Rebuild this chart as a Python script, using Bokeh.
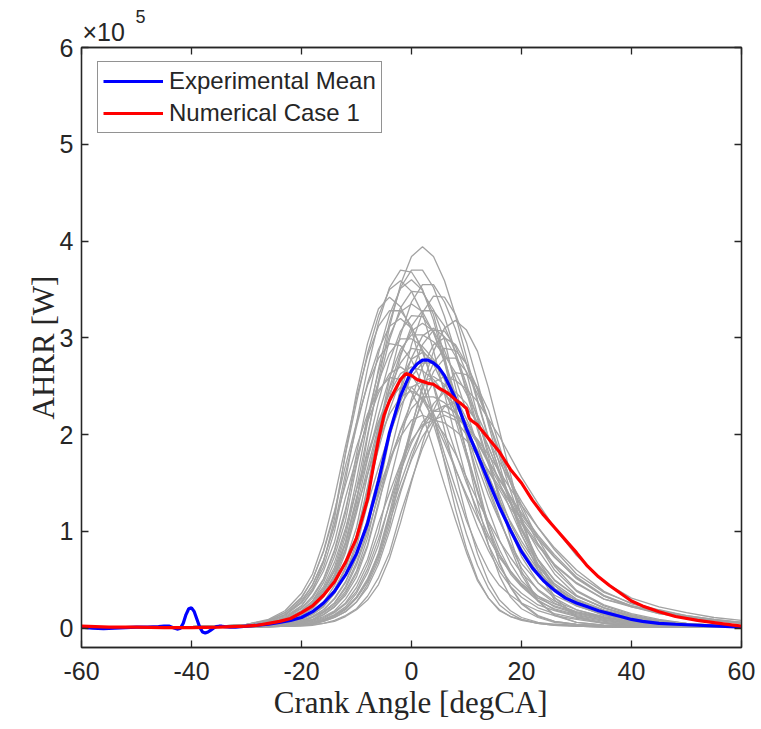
from bokeh.plotting import figure
from bokeh.models import LinearAxis, FixedTicker, Range1d, Legend, LegendItem, Title
from bokeh.embed import file_html
from bokeh.resources import INLINE

# ---------------- data (AHRR in units of 1e5 W) ----------------
X_TICKS = [-60, -40, -20, 0, 20, 40, 60]
X_TICK_LABELS = ["-60", "-40", "-20", "0", "20", "40", "60"]
Y_TICKS = [0, 1, 2, 3, 4, 5, 6]
Y_TICK_LABELS = ["0", "1", "2", "3", "4", "5", "6"]
EXPONENT_BASE = "\u00d710"
EXPONENT_POWER = "5"

# crank angles at which the individual measured cycles were read
CYCLE_X = [-60, -45, -35, -30, -26, -23, -20, -18, -16, -14, -12, -10, -8, -6,
           -4, -2, 0, 2, 4, 6, 8, 10, 12, 14, 16, 18, 20, 23, 26, 30, 35, 40,
           45, 50, 55, 60]

cycle_01 = [.01, .01, .02, .03, .04, .07, .14, .22, .33, .55, .87, 1.30, 1.97, 2.56, 3.11, 3.55, 3.84, 3.94, 3.84, 3.59, 3.23, 2.80, 2.36, 1.97, 1.62, 1.30, 1.02, .71, .49, .33, .21, .13, .07, .04, .03, .02]
cycle_02 = [.01, .01, .02, .03, .07, .13, .26, .41, .63, 1.00, 1.53, 2.12, 2.68, 3.16, 3.52, 3.70, 3.68, 3.50, 3.18, 2.75, 2.27, 1.82, 1.40, 1.04, .76, .56, .43, .28, .20, .14, .08, .05, .03, .02, .02, .02]
cycle_03 = [.01, .01, .02, .03, .05, .08, .17, .26, .41, .63, 1.00, 1.53, 2.12, 2.68, 3.16, 3.52, 3.70, 3.70, 3.52, 3.22, 2.85, 2.44, 2.05, 1.69, 1.38, 1.08, .86, .60, .41, .29, .18, .10, .06, .04, .03, .02]
cycle_04 = [.01, .01, .02, .04, .08, .16, .31, .50, .79, 1.18, 1.80, 2.33, 2.84, 3.23, 3.50, 3.59, 3.48, 3.25, 2.87, 2.42, 1.97, 1.54, 1.17, .86, .63, .47, .36, .24, .18, .12, .07, .04, .03, .02, .02, .02]
cycle_05 = [.01, .01, .02, .02, .03, .05, .10, .16, .25, .39, .61, .96, 1.46, 2.03, 2.57, 3.03, 3.37, 3.55, 3.55, 3.37, 3.09, 2.73, 2.34, 1.96, 1.62, 1.32, 1.04, .71, .50, .33, .21, .12, .07, .04, .03, .02]
cycle_06 = [.01, .01, .01, .02, .03, .04, .06, .09, .16, .24, .38, .59, .93, 1.41, 1.97, 2.48, 2.93, 3.26, 3.43, 3.42, 3.24, 2.95, 2.55, 2.10, 1.69, 1.29, .97, .60, .40, .23, .14, .09, .05, .03, .02, .02]
cycle_07 = [.01, .01, .02, .03, .05, .10, .23, .39, .68, 1.13, 1.81, 2.43, 2.94, 3.30, 3.42, 3.32, 3.08, 2.67, 2.19, 1.71, 1.23, .82, .51, .31, .19, .12, .09, .05, .03, .02, .01, .01, .01, .01, .01, .01]
cycle_08 = [.01, .01, .01, .01, .02, .02, .03, .05, .07, .11, .17, .27, .45, .70, 1.05, 1.59, 2.07, 2.51, 2.86, 3.10, 3.18, 3.08, 2.86, 2.48, 2.04, 1.59, 1.14, .60, .29, .11, .05, .03, .02, .01, .01, .01]
cycle_09 = [.01, .01, .02, .03, .05, .09, .18, .28, .47, .74, 1.11, 1.68, 2.18, 2.65, 3.02, 3.27, 3.35, 3.27, 3.05, 2.75, 2.38, 2.01, 1.68, 1.37, 1.11, .87, .67, .47, .34, .23, .14, .08, .05, .03, .02, .02]
cycle_10 = [.01, .01, .01, .02, .03, .05, .09, .15, .23, .36, .56, .89, 1.35, 1.88, 2.38, 2.81, 3.12, 3.28, 3.28, 3.12, 2.85, 2.52, 2.16, 1.82, 1.50, 1.22, .96, .66, .46, .30, .19, .12, .07, .04, .03, .02]
cycle_11 = [.01, .01, .02, .04, .07, .14, .27, .45, .70, 1.06, 1.60, 2.08, 2.53, 2.88, 3.12, 3.20, 3.10, 2.88, 2.50, 2.05, 1.60, 1.15, .77, .48, .29, .18, .11, .06, .04, .03, .02, .01, .01, .01, .01, .01]
cycle_12 = [.01, .01, .01, .02, .02, .04, .07, .11, .17, .26, .43, .68, 1.02, 1.55, 2.02, 2.45, 2.79, 3.02, 3.10, 3.01, 2.81, 2.48, 2.09, 1.71, 1.33, 1.01, .74, .47, .31, .19, .11, .07, .04, .02, .02, .02]
cycle_13 = [.01, .01, .02, .02, .04, .07, .14, .21, .34, .52, .82, 1.25, 1.74, 2.20, 2.59, 2.88, 3.03, 3.03, 2.96, 2.82, 2.64, 2.42, 2.20, 1.95, 1.72, 1.51, 1.31, 1.04, .81, .56, .37, .26, .19, .13, .09, .06]
cycle_14 = [.01, .01, .01, .02, .02, .03, .05, .07, .11, .17, .26, .42, .66, .99, 1.50, 1.95, 2.37, 2.70, 2.93, 3.00, 2.93, 2.73, 2.46, 2.13, 1.80, 1.50, 1.23, .87, .60, .38, .23, .14, .08, .05, .03, .02]
cycle_15 = [.01, .01, .02, .04, .08, .16, .32, .50, .80, 1.21, 1.68, 2.12, 2.51, 2.79, 2.94, 2.92, 2.77, 2.52, 2.18, 1.80, 1.45, 1.11, .83, .60, .44, .34, .26, .18, .13, .09, .05, .03, .02, .02, .02, .02]
cycle_16 = [.01, .01, .01, .02, .03, .05, .10, .16, .24, .40, .63, .94, 1.43, 1.85, 2.25, 2.57, 2.78, 2.85, 2.76, 2.57, 2.22, 1.82, 1.43, 1.03, .68, .43, .26, .13, .07, .04, .02, .01, .01, .01, .01, .01]
cycle_17 = [.01, .01, .01, .01, .02, .02, .04, .05, .08, .13, .20, .31, .48, .76, 1.15, 1.60, 2.02, 2.38, 2.65, 2.79, 2.79, 2.65, 2.42, 2.14, 1.83, 1.54, 1.27, .92, .64, .39, .24, .15, .09, .05, .03, .02]
cycle_18 = [.01, .01, .01, .02, .04, .07, .15, .23, .38, .59, .89, 1.35, 1.76, 2.13, 2.43, 2.63, 2.70, 2.66, 2.57, 2.43, 2.24, 2.05, 1.84, 1.62, 1.43, 1.24, 1.08, .85, .65, .46, .30, .22, .15, .11, .08, .05]
cycle_19 = [.01, .01, .01, .02, .02, .03, .06, .09, .14, .22, .36, .57, .86, 1.30, 1.69, 2.05, 2.34, 2.54, 2.60, 2.52, 2.35, 2.08, 1.76, 1.43, 1.12, .85, .62, .39, .26, .16, .10, .06, .03, .02, .02, .01]
cycle_20 = [.01, .01, .01, .01, .02, .02, .03, .04, .07, .11, .17, .27, .42, .66, 1.00, 1.40, 1.76, 2.08, 2.32, 2.44, 2.44, 2.32, 2.12, 1.87, 1.60, 1.35, 1.11, .81, .56, .34, .21, .13, .08, .05, .03, .02]
cycle_21 = [.01, .01, .01, .02, .02, .04, .06, .11, .17, .26, .41, .65, .98, 1.37, 1.73, 2.04, 2.27, 2.39, 2.39, 2.33, 2.22, 2.08, 1.91, 1.73, 1.54, 1.36, 1.19, .96, .76, .53, .34, .23, .17, .12, .08, .06]
cycle_22 = [.01, .01, .01, .01, .02, .02, .03, .05, .08, .13, .20, .32, .51, .76, 1.15, 1.50, 1.82, 2.07, 2.24, 2.30, 2.23, 2.07, 1.79, 1.47, 1.15, .83, .55, .28, .13, .06, .03, .02, .01, .01, .01, .01]
cycle_23 = [.01, .01, .01, .02, .02, .04, .08, .12, .19, .31, .48, .73, 1.10, 1.43, 1.74, 1.98, 2.15, 2.20, 2.15, 2.00, 1.80, 1.56, 1.32, 1.10, .90, .73, .57, .40, .28, .19, .12, .07, .04, .02, .02, .01]
cycle_24 = [.01, .01, .01, .01, .02, .03, .05, .08, .12, .18, .30, .47, .71, 1.08, 1.40, 1.70, 1.94, 2.10, 2.15, 2.12, 2.04, 1.94, 1.78, 1.63, 1.46, 1.29, 1.14, .92, .73, .52, .33, .22, .16, .11, .08, .05]
cycle_25 = [.01, .01, .01, .01, .02, .02, .04, .06, .10, .16, .25, .38, .61, .92, 1.28, 1.62, 1.91, 2.13, 2.24, 2.24, 2.18, 2.08, 1.95, 1.79, 1.62, 1.44, 1.27, 1.04, .83, .60, .38, .25, .18, .13, .09, .06]
cycle_26 = [.01, .01, .02, .03, .06, .12, .23, .38, .59, .89, 1.35, 1.76, 2.13, 2.43, 2.63, 2.70, 2.62, 2.43, 2.11, 1.73, 1.35, .97, .65, .41, .24, .15, .09, .05, .04, .02, .01, .01, .01, .01, .01, .01]
cycle_27 = [.01, .01, .02, .03, .07, .14, .29, .44, .70, 1.07, 1.48, 1.87, 2.21, 2.46, 2.59, 2.57, 2.44, 2.21, 1.85, 1.48, 1.12, .78, .49, .31, .18, .12, .08, .05, .03, .02, .01, .01, .01, .01, .01, .01]
cycle_28 = [.01, .01, .02, .02, .04, .07, .15, .23, .36, .55, .88, 1.33, 1.85, 2.34, 2.76, 3.07, 3.23, 3.22, 3.06, 2.78, 2.41, 1.98, 1.59, 1.22, .91, .67, .49, .33, .22, .15, .09, .05, .03, .02, .02, .02]
cycle_29 = [.01, .01, .01, .01, .02, .02, .04, .06, .09, .14, .22, .36, .57, .86, 1.30, 1.69, 2.05, 2.34, 2.54, 2.60, 2.56, 2.47, 2.34, 2.16, 1.98, 1.77, 1.56, 1.29, 1.04, .75, .48, .31, .22, .16, .11, .08]
cycle_30 = [.01, .01, .02, .04, .09, .18, .36, .56, .89, 1.35, 1.88, 2.38, 2.81, 3.12, 3.28, 3.28, 3.12, 2.85, 2.52, 2.16, 1.82, 1.50, 1.22, .96, .76, .59, .46, .33, .25, .17, .11, .06, .04, .02, .02, .02]
cycle_31 = [.01, .01, .01, .02, .04, .06, .13, .20, .32, .49, .78, 1.19, 1.65, 2.09, 2.47, 2.74, 2.89, 2.87, 2.73, 2.48, 2.15, 1.77, 1.42, 1.09, .81, .59, .44, .29, .19, .13, .08, .05, .03, .02, .02, .01]
cycle_32 = [.01, .01, .01, .02, .03, .05, .09, .14, .22, .36, .56, .84, 1.28, 1.66, 2.01, 2.30, 2.49, 2.55, 2.51, 2.42, 2.30, 2.12, 1.94, 1.73, 1.53, 1.35, 1.17, .94, .74, .51, .33, .23, .17, .12, .08, .06]
cycle_33 = [.01, .01, .01, .02, .02, .03, .06, .08, .14, .22, .34, .53, .84, 1.27, 1.77, 2.23, 2.64, 2.93, 3.08, 3.07, 2.91, 2.64, 2.20, 1.77, 1.33, .93, .59, .28, .14, .06, .03, .02, .01, .01, .01, .01]
cycle_34 = [.01, .01, .01, .02, .02, .04, .07, .12, .19, .30, .47, .74, 1.13, 1.57, 1.98, 2.34, 2.60, 2.74, 2.74, 2.60, 2.38, 2.10, 1.80, 1.51, 1.25, 1.02, .80, .55, .39, .25, .16, .10, .06, .03, .02, .02]
cycle_35 = [.01, .01, .01, .01, .01, .02, .03, .04, .05, .08, .13, .20, .33, .52, .78, 1.18, 1.53, 1.86, 2.12, 2.29, 2.35, 2.28, 2.13, 1.88, 1.59, 1.29, 1.01, .66, .41, .24, .13, .08, .05, .03, .02, .01]
cycle_36 = [.01, .01, .02, .03, .05, .08, .16, .25, .39, .60, .95, 1.44, 2.00, 2.52, 2.98, 3.31, 3.48, 3.47, 3.29, 2.98, 2.49, 2.00, 1.51, 1.05, .67, .42, .25, .12, .07, .04, .02, .01, .01, .01, .01, .01]
cycle_37 = [.01, .01, .02, .02, .05, .09, .18, .28, .43, .68, 1.03, 1.43, 1.80, 2.13, 2.36, 2.49, 2.49, 2.36, 2.16, 1.91, 1.64, 1.38, 1.14, .93, .73, .58, .45, .31, .23, .16, .10, .06, .04, .02, .02, .01]
cycle_38 = [.01, .01, .01, .01, .02, .02, .04, .05, .08, .13, .20, .32, .49, .78, 1.19, 1.65, 2.09, 2.47, 2.74, 2.89, 2.87, 2.73, 2.48, 2.15, 1.77, 1.42, 1.09, .70, .44, .25, .15, .09, .05, .03, .02, .02]
cycle_39 = [.01, .01, .01, .01, .02, .02, .03, .05, .08, .12, .19, .31, .48, .73, 1.10, 1.43, 1.74, 1.98, 2.15, 2.20, 2.15, 2.00, 1.80, 1.56, 1.32, 1.10, .90, .64, .44, .28, .17, .11, .06, .04, .02, .02]
cycle_40 = [.01, .01, .02, .03, .05, .11, .21, .33, .51, .81, 1.23, 1.71, 2.16, 2.55, 2.84, 2.99, 2.99, 2.91, 2.78, 2.60, 2.39, 2.16, 1.92, 1.70, 1.49, 1.29, 1.11, .87, .66, .47, .30, .23, .15, .11, .08, .05]
cycle_41 = [.01, .01, .01, .01, .01, .02, .02, .03, .05, .07, .12, .19, .29, .45, .72, 1.09, 1.51, 1.91, 2.25, 2.50, 2.64, 2.62, 2.49, 2.25, 1.88, 1.51, 1.14, .64, .32, .12, .05, .02, .01, .01, .01, .01]
cycle_42 = [.01, .01, .02, .02, .03, .06, .11, .17, .27, .44, .69, 1.04, 1.58, 2.05, 2.49, 2.84, 3.07, 3.15, 3.07, 2.87, 2.58, 2.24, 1.89, 1.58, 1.29, 1.04, .82, .57, .39, .27, .17, .10, .06, .03, .02, .02]
cycle_43 = [.01, .01, .01, .02, .04, .07, .13, .21, .34, .54, .81, 1.23, 1.59, 1.94, 2.21, 2.39, 2.45, 2.38, 2.22, 1.96, 1.65, 1.35, 1.05, .80, .59, .43, .32, .21, .15, .10, .06, .04, .02, .01, .01, .01]
cycle_44 = [.01, .01, .02, .03, .05, .10, .20, .31, .50, .79, 1.19, 1.80, 2.34, 2.84, 3.24, 3.51, 3.60, 3.49, 3.24, 2.81, 2.30, 1.80, 1.30, .86, .54, .32, .20, .11, .06, .04, .02, .01, .01, .01, .01, .01]

CYCLES = [cycle_01, cycle_02, cycle_03, cycle_04, cycle_05, cycle_06, cycle_07,
          cycle_08, cycle_09, cycle_10, cycle_11, cycle_12, cycle_13, cycle_14,
          cycle_15, cycle_16, cycle_17, cycle_18, cycle_19, cycle_20, cycle_21,
          cycle_22, cycle_23, cycle_24, cycle_25, cycle_26, cycle_27, cycle_28,
          cycle_29, cycle_30, cycle_31, cycle_32, cycle_33, cycle_34, cycle_35,
          cycle_36, cycle_37, cycle_38, cycle_39, cycle_40, cycle_41, cycle_42,
          cycle_43, cycle_44]
for i, c in enumerate(CYCLES):
    assert len(c) == len(CYCLE_X), (i + 1, len(c))

# Experimental mean
BLUE_X = [-60, -58, -56, -54, -52, -50, -48, -46, -45, -44, -43.3, -42.6, -42,
          -41.5, -41, -40.5, -40, -39.5, -39, -38.5, -38, -37.5, -37, -36.5, -36,
          -35.5, -35, -34.5, -34, -33, -32, -30, -28, -26, -24, -22, -20, -18,
          -16, -14, -12, -10, -8, -6, -4, -2, 0, 1, 2, 3, 4, 5, 6, 8, 10, 12, 14,
          16, 18, 20, 22, 24, 26, 28, 30, 32, 34, 36, 38, 40, 42, 45, 48, 52, 56,
          60]
BLUE_Y = [0.01, 0.0, -0.005, 0.0, 0.005, 0.01, 0.01, 0.015, 0.02, 0.02, 0.005,
          -0.01, 0.0, 0.05, 0.14, 0.20, 0.21, 0.17, 0.09, 0.01, -0.04, -0.05,
          -0.04, -0.02, 0.0, 0.015, 0.02, 0.02, 0.015, 0.01, 0.01, 0.02, 0.03,
          0.04, 0.06, 0.08, 0.11, 0.17, 0.26, 0.38, 0.55, 0.77, 1.08, 1.52, 2.02,
          2.40, 2.66, 2.73, 2.77, 2.77, 2.74, 2.69, 2.61, 2.37, 2.06, 1.79, 1.52,
          1.25, 1.01, 0.79, 0.62, 0.49, 0.39, 0.31, 0.26, 0.22, 0.18, 0.15, 0.12,
          0.09, 0.07, 0.05, 0.04, 0.03, 0.02, 0.01]

# Numerical case 1
RED_X = [-60, -55, -50, -45, -40, -35, -30, -28, -26, -24, -22, -20, -18, -16,
         -14, -12, -10, -8, -7, -6, -5, -4, -3, -2, -1, 0, 1, 2, 3, 4, 5, 6, 7,
         8, 9, 10, 10.5, 11, 12, 13, 14, 15, 16, 18, 20, 22, 24, 26, 28, 30, 32,
         34, 36, 38, 40, 42, 45, 48, 52, 56, 60]
RED_Y = [0.02, 0.01, 0.01, 0.005, 0.005, 0.01, 0.02, 0.03, 0.05, 0.07, 0.10,
         0.16, 0.23, 0.34, 0.48, 0.68, 0.93, 1.33, 1.65, 1.95, 2.20, 2.35, 2.46,
         2.57, 2.63, 2.61, 2.57, 2.55, 2.53, 2.52, 2.48, 2.45, 2.41, 2.36, 2.32,
         2.27, 2.17, 2.14, 2.10, 2.03, 1.96, 1.89, 1.82, 1.64, 1.50, 1.32, 1.17,
         1.04, 0.91, 0.78, 0.64, 0.53, 0.44, 0.36, 0.28, 0.23, 0.17, 0.12, 0.08,
         0.05, 0.02]

# ---------------- styling ----------------
DARK = "#262626"
SANS = "Liberation Sans"
SERIF = "Liberation Serif"

p = figure(width=761, height=729, output_backend="svg", toolbar_location=None,
           x_range=Range1d(-60, 60), y_range=Range1d(-0.2, 6),
           min_border_left=81, min_border_right=20, min_border_top=47,
           min_border_bottom=82)
p.background_fill_color = "white"
p.border_fill_color = "white"
p.xgrid.visible = False
p.ygrid.visible = False
p.outline_line_color = DARK
p.outline_line_width = 1.3
p.outline_line_alpha = 1.0

p.multi_line(xs=[CYCLE_X] * len(CYCLES), ys=CYCLES, line_color="#a3a3a3",
             line_width=1.3)
blue_r = p.line(BLUE_X, BLUE_Y, line_color="#0000ff", line_width=3.2)
red_r = p.line(RED_X, RED_Y, line_color="#ff0000", line_width=3.2)


def style_axis(ax, ticks, labels):
    ax.ticker = FixedTicker(ticks=ticks)
    ax.major_label_overrides = {t: l for t, l in zip(ticks, labels)}
    ax.axis_line_color = DARK
    ax.axis_line_width = 1.3
    ax.major_tick_line_color = DARK
    ax.major_tick_line_width = 1.3
    ax.major_tick_in = 7
    ax.major_tick_out = 0
    ax.minor_tick_line_color = None
    ax.major_label_text_font = SANS
    ax.major_label_text_color = DARK
    ax.major_label_text_font_size = "25px"
    ax.axis_label_text_font = SERIF
    ax.axis_label_text_font_style = "normal"
    ax.axis_label_text_font_size = "31px"
    ax.axis_label_text_color = DARK


xa = p.xaxis[0]
style_axis(xa, X_TICKS, X_TICK_LABELS)
xa.axis_label = "Crank Angle [degCA]"
xa.major_label_standoff = 14
xa.axis_label_standoff = 2

ya = p.yaxis[0]
style_axis(ya, Y_TICKS, Y_TICK_LABELS)
ya.axis_label = "AHRR [W]"
ya.major_label_standoff = 8
ya.axis_label_standoff = -4

# box ticks on top and right (no labels)
top = LinearAxis()
style_axis(top, X_TICKS, [""] * len(X_TICKS))
top.major_label_standoff = -40
p.add_layout(top, "above")

right = LinearAxis()
style_axis(right, Y_TICKS, [""] * len(Y_TICKS))
right.major_label_standoff = 0
p.add_layout(right, "right")

# exponent of the y axis:  x10 with a raised 5
exp_base = Title(text=EXPONENT_BASE, align="left", offset=1, standoff=3,
                 text_font=SANS, text_font_size="25px",
                 text_font_style="normal", text_color=DARK)
p.add_layout(exp_base, "above")
exp_power = Title(text=EXPONENT_POWER, align="left", offset=54, standoff=-17,
                  text_font=SANS, text_font_size="18px",
                  text_font_style="normal", text_color=DARK)
p.add_layout(exp_power, "above")

legend = Legend(items=[LegendItem(label="Experimental Mean", renderers=[blue_r]),
                       LegendItem(label="Numerical Case 1", renderers=[red_r])],
                location=(16, 514))
legend.label_text_font = SANS
legend.label_text_font_size = "24px"
legend.label_text_color = DARK
legend.glyph_width = 60
legend.glyph_height = 20
legend.label_standoff = 6
legend.padding = 5
legend.spacing = 4
legend.margin = 0
legend.border_line_color = DARK
legend.border_line_width = 1.3
legend.background_fill_color = "white"
legend.background_fill_alpha = 1.0
p.add_layout(legend)

open("out.html", "w").write(file_html(p, INLINE))
